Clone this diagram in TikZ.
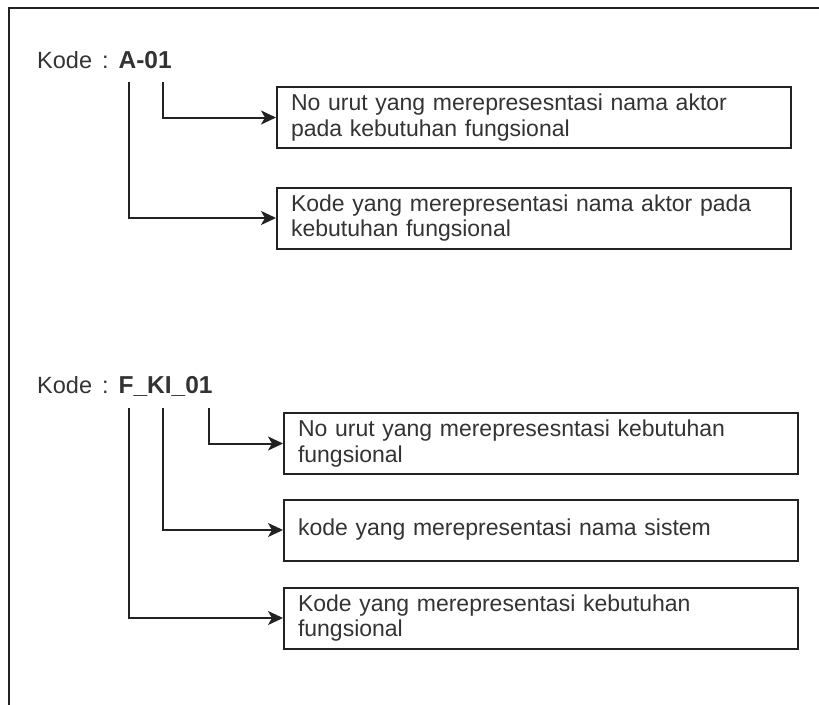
\documentclass[tikz,border=0pt]{standalone}
\usepackage{fontspec}
\setmainfont{Liberation Sans}
\usetikzlibrary{arrows.meta}
\definecolor{ink}{HTML}{222222}
\definecolor{txt}{HTML}{333333}
\newcommand{\kodesep}{\hspace{10pt}:\hspace{10pt}}
\tikzset{
  x=1pt, y=-1pt,
  titletext/.style={inner sep=0pt, anchor=base west, text=txt, font=\fontsize{23.5}{26}\selectfont},
  descbox/.style={draw=ink, line width=2pt, anchor=west, inner xsep=14pt, inner ysep=0pt,
    text width=486pt, minimum height=61pt, align=left, text=txt, font=\fontsize{23}{25.5}\selectfont},
  conn/.style={draw=ink, line width=2pt, -{Stealth[length=15pt,width=14pt,inset=4pt]}},
  frame/.style={draw=ink, line width=2pt}
}
\begin{document}
\begin{tikzpicture}
\useasboundingbox (0,0) rectangle (819,704);
% outer frame (cropped)
\coordinate (fbl) at (9,705);
\coordinate (ftl) at (9,8);
\coordinate (ftr) at (820,8);
\draw[frame] (fbl) -- (ftl) -- (ftr);

% first code
\node[titletext] (t1) at (37,68) {Kode\kodesep{\fontsize{24.5}{26}\selectfont\bfseries A-01}};
\node[descbox] (b1) at (276,117.5) {No urut yang merepresesntasi nama aktor\\pada kebutuhan fungsional};
\node[descbox] (b2) at (276,218) {Kode yang merepresentasi nama aktor pada\\kebutuhan fungsional};
\coordinate (s11) at (129,82);
\coordinate (s12) at (163,82);
\draw[conn] (s12) |- (b1.west);
\draw[conn] (s11) |- (b2.west);

% second code
\node[titletext] (t2) at (37,393) {Kode\kodesep{\fontsize{24.5}{26}\selectfont\bfseries F\_KI\_01}};
\node[descbox] (b3) at (283,443.5) {No urut yang merepresesntasi kebutuhan\\fungsional};
\node[descbox] (b4) at (283,530) {kode yang merepresentasi nama sistem};
\node[descbox] (b5) at (283,618) {Kode yang merepresentasi kebutuhan\\fungsional};
\coordinate (s21) at (129,408);
\coordinate (s22) at (163,408);
\coordinate (s23) at (209,408);
\draw[conn] (s23) |- (b3.west);
\draw[conn] (s22) |- (b4.west);
\draw[conn] (s21) |- (b5.west);
\end{tikzpicture}
\end{document}
